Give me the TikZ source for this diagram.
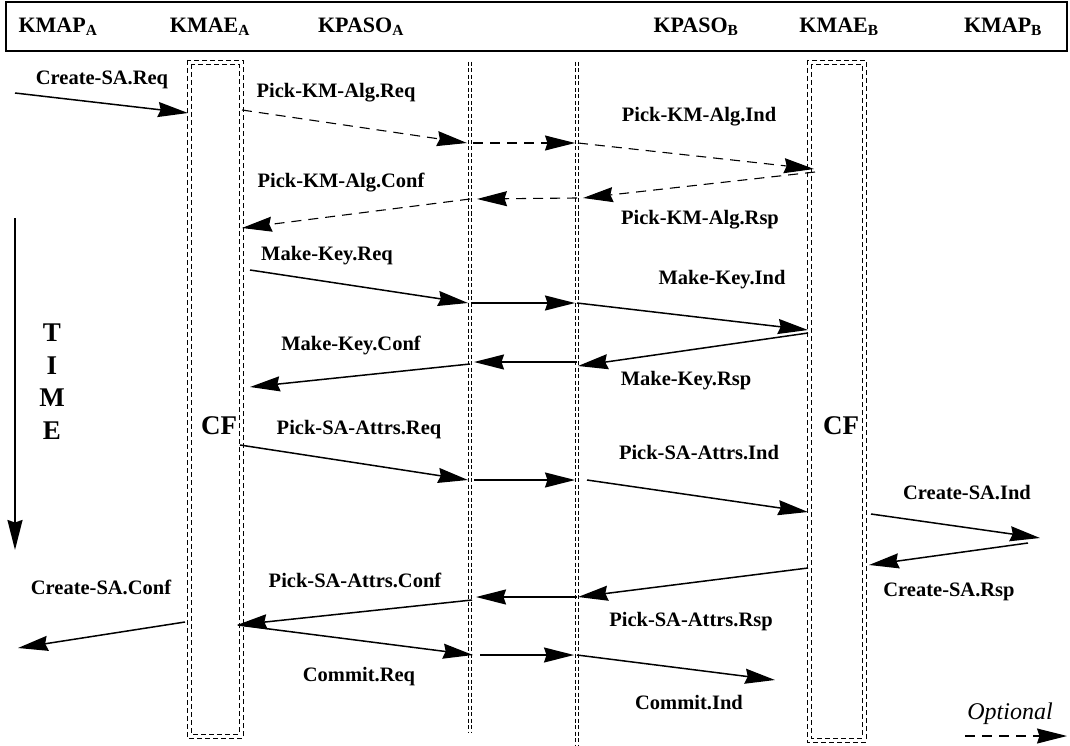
\documentclass[tikz,border=0pt]{standalone}
\usepackage{fontspec}
\setmainfont{Liberation Serif}
\usetikzlibrary{arrows.meta}
\tikzset{
  lbl/.style={font=\bfseries\fontsize{20.5}{24}\selectfont, inner sep=0pt},
  hdr/.style={font=\bfseries\fontsize{22}{26}\selectfont, inner sep=0pt},
  big/.style={font=\bfseries\fontsize{27}{30}\selectfont, inner sep=0pt},
  msg/.style={line width=1.5pt, -{Stealth[length=30pt,width=15pt,inset=2.5pt]}},
  opt/.style={msg, line width=1.1pt, dash pattern=on 10pt off 7pt},
  life/.style={line width=0.6pt, dash pattern=on 4pt off 2.5pt},
  cfbox/.style={line width=0.7pt, dash pattern=on 5pt off 3pt},
}
\begin{document}
\begin{tikzpicture}[x=1pt,y=-1pt]
\useasboundingbox (0,0) rectangle (1070,746);
% header
\draw[line width=1.3pt] (6,2) rectangle (1067,51);
\node[hdr] (h1) at (58,27) {KMAP\textsubscript{A}};
\node[hdr] (h2) at (210,27) {KMAE\textsubscript{A}};
\node[hdr] (h3) at (361,27) {KPASO\textsubscript{A}};
\node[hdr] (h4) at (696,27) {KPASO\textsubscript{B}};
\node[hdr] (h5) at (839,27) {KMAE\textsubscript{B}};
\node[hdr] (h6) at (1003,27) {KMAP\textsubscript{B}};
% CF boxes
\draw[cfbox] (187,60) rectangle (243,738);
\draw[cfbox] (191,64) rectangle (239,734);
\draw[cfbox] (807,60) rectangle (866,742);
\draw[cfbox] (811,64) rectangle (862,738);
\node[big] (cfa) at (219,426) {CF};
\node[big] (cfb) at (841,426) {CF};
% lifelines
\draw[life] (468.5,62) -- (468.5,732);
\draw[life] (471.5,62) -- (471.5,732);
\draw[life] (575.5,62) -- (575.5,746);
\draw[life] (578.5,62) -- (578.5,746);
% TIME
\node[big] (t1) at (52,333) {T};
\node[big] (t2) at (52,366) {I};
\node[big] (t3) at (52,398) {M};
\node[big] (t4) at (52,431) {E};
\coordinate (tA) at (15,218);
\coordinate (tB) at (15,550);
\draw[msg, line width=2pt] (tA) -- (tB);
% coordinates
\coordinate (a0) at (15,93);   \coordinate (a1) at (188,113);
\coordinate (b0) at (242,110); \coordinate (b1) at (467,143);
\coordinate (b2) at (473,143); \coordinate (b3) at (575,143);
\coordinate (b4) at (578,143); \coordinate (b5) at (814,169);
\coordinate (c0) at (815,172); \coordinate (c1) at (583,198);
\coordinate (c2) at (577,198); \coordinate (c3) at (477,199);
\coordinate (c4) at (470,199); \coordinate (c5) at (242,228);
\coordinate (d0) at (250,270); \coordinate (d1) at (468,303);
\coordinate (d2) at (471,303); \coordinate (d3) at (575,303);
\coordinate (d4) at (577,303); \coordinate (d5) at (808,330);
\coordinate (e0) at (808,333); \coordinate (e1) at (578,366);
\coordinate (e2) at (577,362); \coordinate (e3) at (474,362);
\coordinate (e4) at (470,364); \coordinate (e5) at (250,387);
\coordinate (f0) at (240,445); \coordinate (f1) at (468,480);
\coordinate (f2) at (474,480); \coordinate (f3) at (575,480);
\coordinate (f4) at (587,480); \coordinate (f5) at (808,512);
\coordinate (g0) at (871,514); \coordinate (g1) at (1040,538);
\coordinate (h0) at (1028,543); \coordinate (hh1) at (869,565);
\coordinate (i0) at (808,568); \coordinate (i1) at (578,597);
\coordinate (i2) at (577,597); \coordinate (i3) at (476,597);
\coordinate (i4) at (472,600); \coordinate (i5) at (237,625);
\coordinate (j0) at (185,622); \coordinate (j1) at (18,648);
\coordinate (k0) at (238,625); \coordinate (k1) at (473,655);
\coordinate (k2) at (480,655); \coordinate (k3) at (574,655);
\coordinate (k4) at (577,655); \coordinate (k5) at (775,680);
% messages
\draw[msg] (a0) -- (a1);
\draw[opt] (b0) -- (b1);
\draw[opt] (b2) -- (b3);
\draw[opt] (b4) -- (b5);
\draw[opt] (c0) -- (c1);
\draw[opt] (c2) -- (c3);
\draw[opt] (c4) -- (c5);
\draw[msg] (d0) -- (d1);
\draw[msg] (d2) -- (d3);
\draw[msg] (d4) -- (d5);
\draw[msg] (e0) -- (e1);
\draw[msg] (e2) -- (e3);
\draw[msg] (e4) -- (e5);
\draw[msg] (f0) -- (f1);
\draw[msg] (f2) -- (f3);
\draw[msg] (f4) -- (f5);
\draw[msg] (g0) -- (g1);
\draw[msg] (h0) -- (hh1);
\draw[msg] (i0) -- (i1);
\draw[msg] (i2) -- (i3);
\draw[msg] (i4) -- (i5);
\draw[msg] (j0) -- (j1);
\draw[msg] (k0) -- (k1);
\draw[msg] (k2) -- (k3);
\draw[msg] (k4) -- (k5);
% labels
\node[lbl] (l1) at (102,80) {Create-SA.Req};
\node[lbl] (l2) at (336,93) {Pick-KM-Alg.Req};
\node[lbl] (l3) at (699,117) {Pick-KM-Alg.Ind};
\node[lbl] (l4) at (341,183) {Pick-KM-Alg.Conf};
\node[lbl] (l5) at (700,220) {Pick-KM-Alg.Rsp};
\node[lbl] (l6) at (327,256) {Make-Key.Req};
\node[lbl] (l7) at (722,280) {Make-Key.Ind};
\node[lbl] (l8) at (351,345) {Make-Key.Conf};
\node[lbl] (l9) at (686,381) {Make-Key.Rsp};
\node[lbl] (l10) at (359,430) {Pick-SA-Attrs.Req};
\node[lbl] (l11) at (699,453) {Pick-SA-Attrs.Ind};
\node[lbl] (l12) at (967,493) {Create-SA.Ind};
\node[lbl] (l13) at (949,592) {Create-SA.Rsp};
\node[lbl] (l14) at (101,587) {Create-SA.Conf};
\node[lbl] (l15) at (355,580) {Pick-SA-Attrs.Conf};
\node[lbl] (l16) at (691,622) {Pick-SA-Attrs.Rsp};
\node[lbl] (l17) at (359,677) {Commit.Req};
\node[lbl] (l18) at (689,703) {Commit.Ind};
% legend
\node[font=\itshape\fontsize{24}{28}\selectfont, inner sep=0pt] (optl) at (1010,714) {Optional};
\coordinate (o0) at (965,736);
\coordinate (o1) at (1067,736);
\draw[opt] (o0) -- (o1);
\end{tikzpicture}
\end{document}
